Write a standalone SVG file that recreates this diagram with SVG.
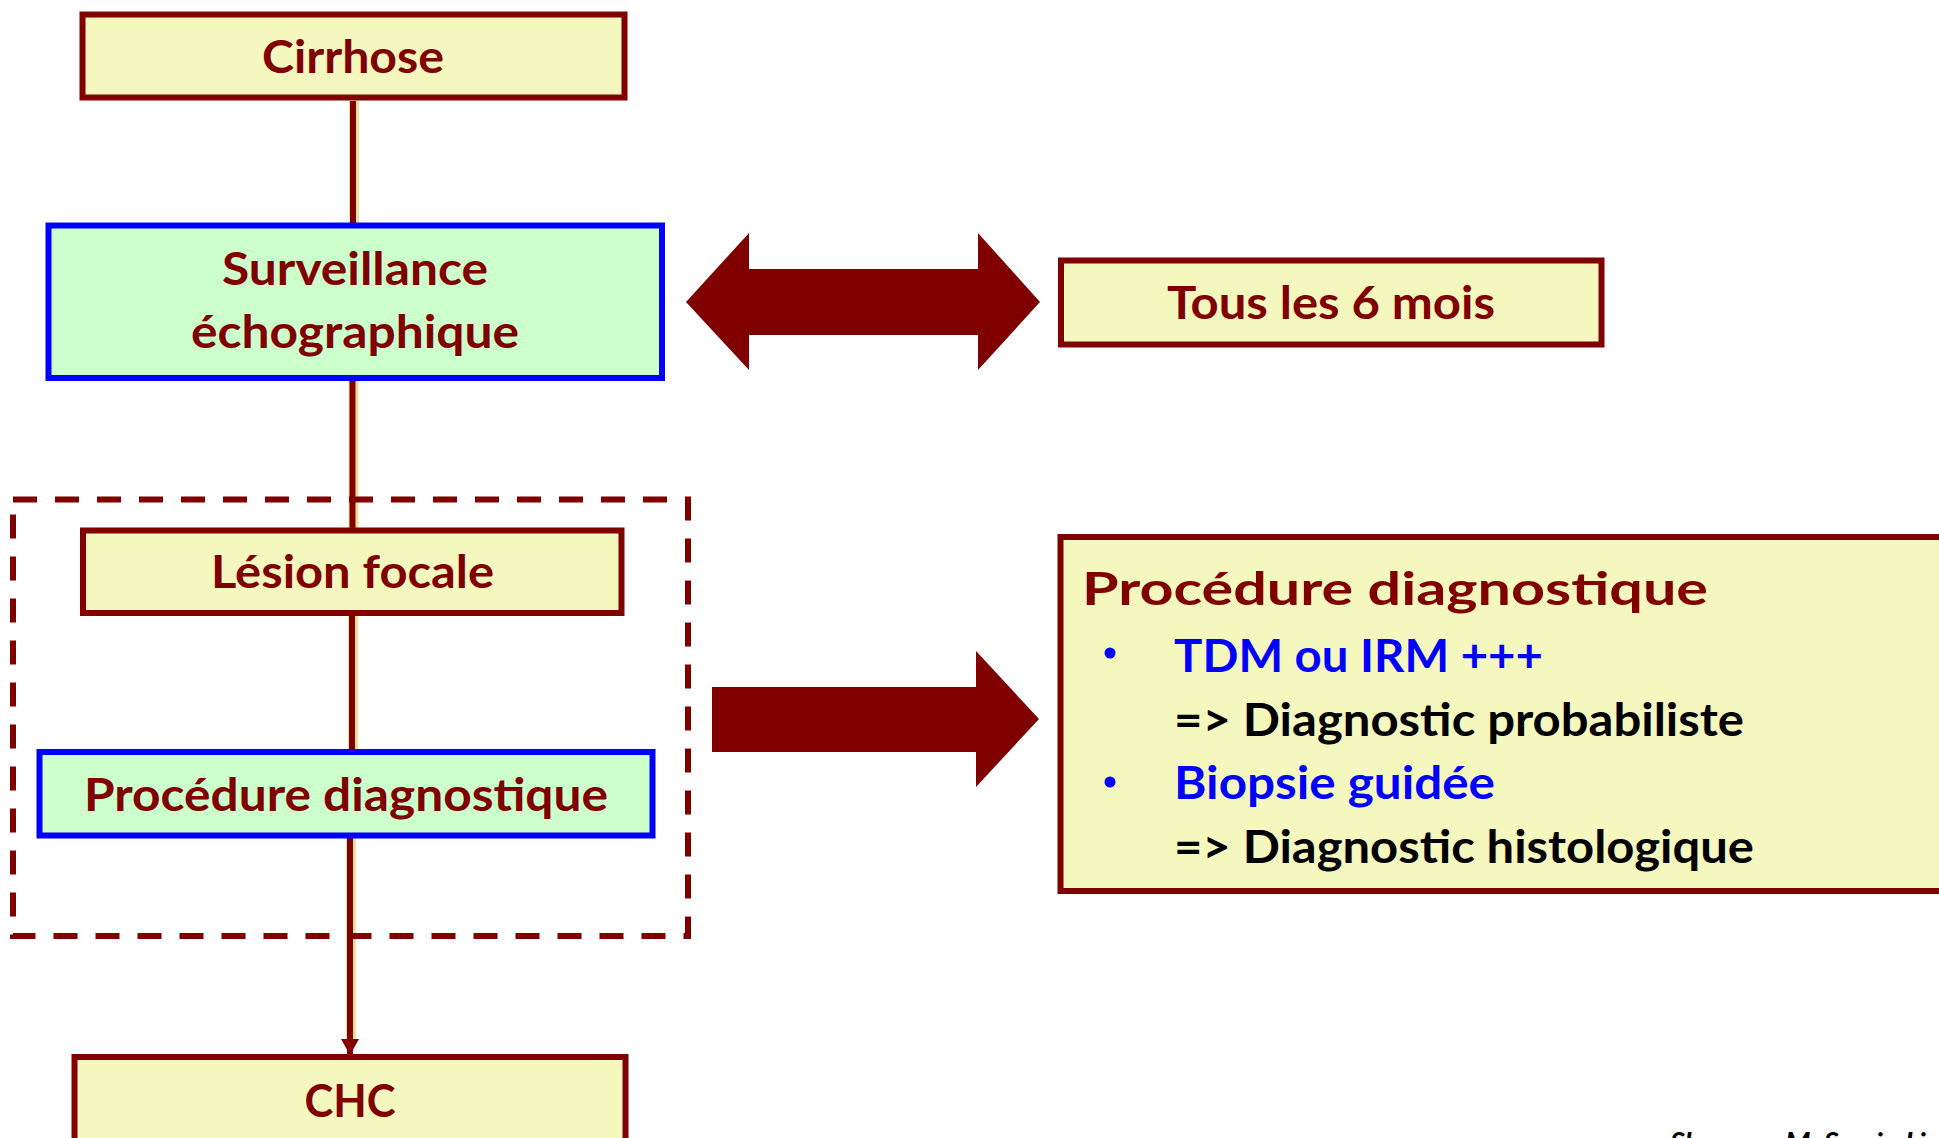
<svg xmlns="http://www.w3.org/2000/svg" width="1939" height="1138" viewBox="0 0 1939 1138">
  <style>
    .box-y { fill: #F5F8BE; stroke: #800000; stroke-width: 6; }
    .box-g { fill: #CCFFCC; stroke: #0000FF; stroke-width: 6; }
    .frame { fill: none; stroke: #800000; stroke-width: 6; stroke-dasharray: 24 18; }
    .lbl { font-family: Lato, "Liberation Sans", sans-serif; font-weight: bold; font-size: 46px; fill: #800000; }
    .mid { text-anchor: middle; }
    .blue { fill: #0000FF; }
    .black { fill: #000000; }
    .halo { stroke: #E6E29A; stroke-width: 10; fill: none; }
    .wire { stroke: #800000; stroke-width: 6; fill: none; }
    .block { fill: #800000; }
    .cite { font-family: Lato, "Liberation Sans", sans-serif; font-weight: bold; font-style: italic; font-size: 29px; fill: #000000; }
  </style>
  <defs>
    <marker id="tip" markerUnits="userSpaceOnUse" markerWidth="20" markerHeight="18" refX="16" refY="9" orient="auto">
      <path d="M0,0 L16,9 L0,18 Z" fill="#800000"/>
    </marker>
  </defs>

  <rect width="1939" height="1138" fill="#FFFFFF"/>

  <!-- connectors: vertical flow line and block arrows -->
  <g id="connectors">
    <line class="halo" x1="354" y1="101" x2="354" y2="223"/>
    <line class="wire" x1="353" y1="101" x2="353" y2="223"/>
    <line class="halo" x1="353.5" y1="381" x2="353.5" y2="528"/>
    <line class="wire" x1="352.5" y1="381" x2="352.5" y2="528"/>
    <line class="halo" x1="353" y1="616" x2="353" y2="749"/>
    <line class="wire" x1="352" y1="616" x2="352" y2="749"/>
    <line class="halo" x1="351" y1="838" x2="351" y2="1040"/>
    <line class="wire" x1="350" y1="838" x2="350" y2="1055" marker-end="url(#tip)"/>
    <!-- two-headed arrow between Surveillance and "Tous les 6 mois" -->
    <polygon id="arrow-both" class="block" points="686,302 749,233 749,269 978,269 978,233 1040,302 978,370 978,335 749,335 749,370"/>
    <!-- arrow from the dashed group to the detail box -->
    <polygon id="arrow-right" class="block" points="712,687 976,687 976,651 1039,719 976,787 976,752 712,752"/>
  </g>

  <!-- dashed frame around the diagnostic steps -->
  <g id="frame-diagnostic">
    <rect class="frame" x="13" y="499.5" width="675" height="436.5"/>
  </g>

  <g id="node-cirrhose">
    <rect class="box-y" x="82.5" y="14.5" width="542" height="83"/>
    <text class="lbl mid" x="353" y="73" textLength="182" lengthAdjust="spacingAndGlyphs">Cirrhose</text>
  </g>

  <g id="node-surveillance">
    <rect class="box-g" x="48.5" y="225.5" width="613.5" height="152.5"/>
    <text class="lbl mid" x="355" y="285" textLength="266" lengthAdjust="spacingAndGlyphs">Surveillance</text>
    <text class="lbl mid" x="355" y="348" textLength="328" lengthAdjust="spacingAndGlyphs">échographique</text>
  </g>

  <g id="node-frequence">
    <rect class="box-y" x="1061" y="260.5" width="540.5" height="84"/>
    <text class="lbl mid" x="1331" y="319" textLength="328" lengthAdjust="spacingAndGlyphs">Tous les 6 mois</text>
  </g>

  <g id="node-lesion">
    <rect class="box-y" x="83" y="530.5" width="538.5" height="82.5"/>
    <text class="lbl mid" x="352.5" y="588" textLength="283" lengthAdjust="spacingAndGlyphs">Lésion focale</text>
  </g>

  <g id="node-procedure">
    <rect class="box-g" x="39.5" y="752" width="613" height="83.5"/>
    <text class="lbl" x="84" y="811" textLength="524" lengthAdjust="spacingAndGlyphs">Procédure diagnostique</text>
  </g>

  <g id="node-chc">
    <rect class="box-y" x="74.5" y="1057" width="551" height="100"/>
    <text class="lbl mid" x="350" y="1117" textLength="91" lengthAdjust="spacingAndGlyphs">CHC</text>
  </g>

  <g id="node-detail">
    <rect class="box-y" x="1060.5" y="537" width="900" height="354"/>
    <text class="lbl" x="1082" y="605" font-size="53" textLength="626" lengthAdjust="spacingAndGlyphs">Procédure diagnostique</text>
    <circle cx="1110" cy="653" r="5.5" fill="#0000FF"/>
    <text class="lbl blue" x="1174" y="672" textLength="369" lengthAdjust="spacingAndGlyphs">TDM ou IRM +++</text>
    <text class="lbl black" x="1174" y="736" textLength="570" lengthAdjust="spacingAndGlyphs">=&gt; Diagnostic probabiliste</text>
    <circle cx="1110" cy="782" r="5.5" fill="#0000FF"/>
    <text class="lbl blue" x="1174" y="799" textLength="321" lengthAdjust="spacingAndGlyphs">Biopsie guidée</text>
    <text class="lbl black" x="1174" y="863" textLength="580" lengthAdjust="spacingAndGlyphs">=&gt; Diagnostic histologique</text>
  </g>

  <!-- source reference, running past the lower edge -->
  <text class="cite" x="1670" y="1153">Sherman M. Semin Liver Dis</text>
</svg>
